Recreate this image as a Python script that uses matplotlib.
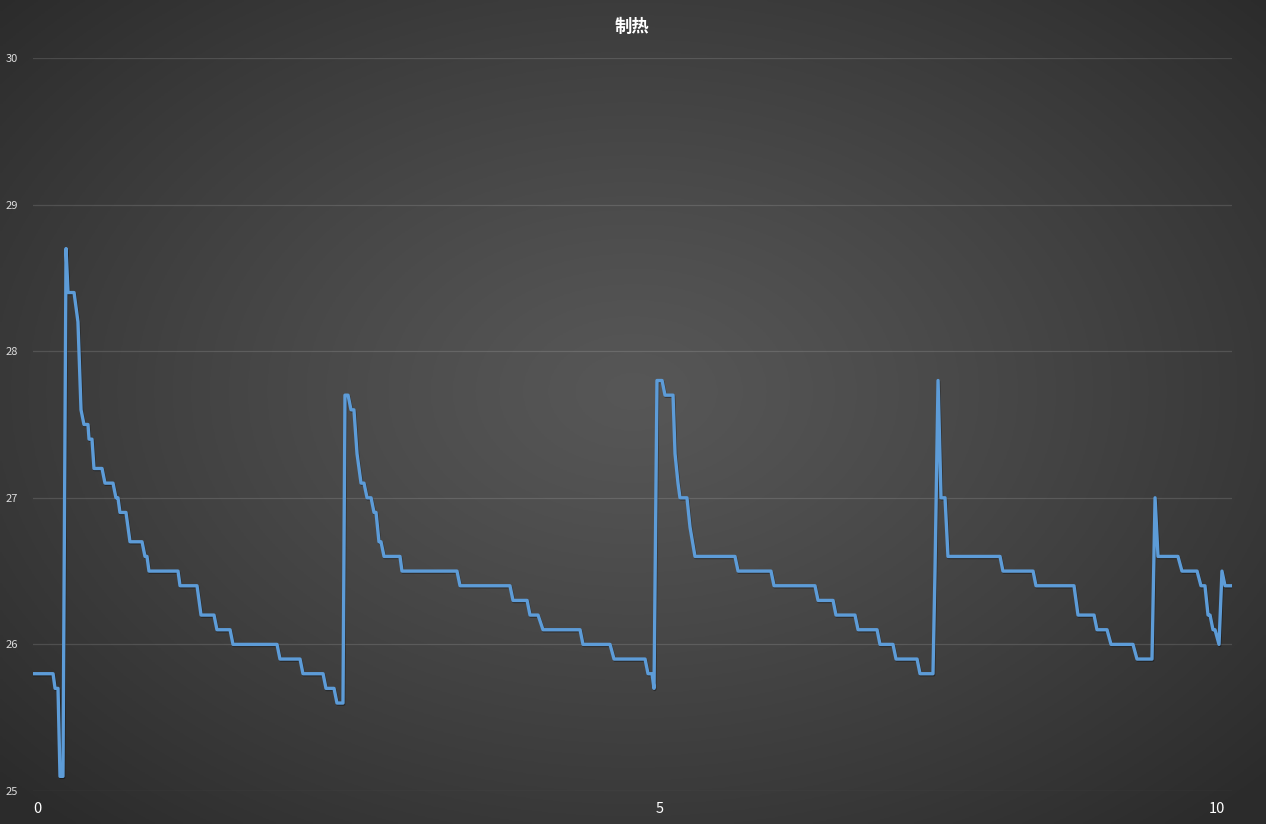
import matplotlib
matplotlib.use("Agg")
import matplotlib.pyplot as plt
import matplotlib.patheffects as pe
import numpy as np

plt.rcParams['font.family'] = ['Noto Sans CJK SC', 'DejaVu Sans']

TITLE = "制热"

# breakpoints of the temperature trace (x in axis units, y in degrees)
time_x = [
    -0.034, 0.136, 0.153, 0.178, 0.195, 0.220, 0.246, 0.263, 0.314, 0.347,
    0.373, 0.398, 0.432, 0.441, 0.466, 0.483, 0.551, 0.576, 0.644, 0.669,
    0.686, 0.703, 0.754, 0.788, 0.890, 0.915, 0.932, 0.949, 1.195, 1.212,
    1.356, 1.390, 1.500, 1.525, 1.636, 1.661, 2.034, 2.059, 2.229, 2.254,
    2.424, 2.449, 2.517, 2.542, 2.593, 2.610, 2.636, 2.661, 2.686, 2.712,
    2.746, 2.771, 2.797, 2.831, 2.856, 2.873, 2.898, 2.915, 2.941, 3.076,
    3.093, 3.559, 3.585, 4.008, 4.034, 4.153, 4.178, 4.246, 4.288, 4.602,
    4.627, 4.856, 4.890, 5.153, 5.178, 5.212, 5.229, 5.254, 5.297, 5.322,
    5.390, 5.407, 5.432, 5.449, 5.508, 5.534, 5.576, 5.915, 5.941, 6.220,
    6.246, 6.593, 6.619, 6.746, 6.771, 6.932, 6.958, 7.119, 7.144, 7.254,
    7.280, 7.458, 7.483, 7.593, 7.610, 7.636, 7.661, 7.695, 7.720, 8.161,
    8.186, 8.441, 8.466, 8.788, 8.822, 8.958, 8.983, 9.068, 9.102, 9.288,
    9.322, 9.449, 9.475, 9.500, 9.669, 9.703, 9.831, 9.864, 9.898, 9.924,
    9.941, 9.966, 9.983, 10.017, 10.042, 10.068, 10.127,
]
temp_y = [
    25.8, 25.8, 25.7, 25.7, 25.1, 25.1, 28.7, 28.4, 28.4, 28.2,
    27.6, 27.5, 27.5, 27.4, 27.4, 27.2, 27.2, 27.1, 27.1, 27.0,
    27.0, 26.9, 26.9, 26.7, 26.7, 26.6, 26.6, 26.5, 26.5, 26.4,
    26.4, 26.2, 26.2, 26.1, 26.1, 26.0, 26.0, 25.9, 25.9, 25.8,
    25.8, 25.7, 25.7, 25.6, 25.6, 27.7, 27.7, 27.6, 27.6, 27.3,
    27.1, 27.1, 27.0, 27.0, 26.9, 26.9, 26.7, 26.7, 26.6, 26.6,
    26.5, 26.5, 26.4, 26.4, 26.3, 26.3, 26.2, 26.2, 26.1, 26.1,
    26.0, 26.0, 25.9, 25.9, 25.8, 25.8, 25.7, 27.8, 27.8, 27.7,
    27.7, 27.3, 27.1, 27.0, 27.0, 26.8, 26.6, 26.6, 26.5, 26.5,
    26.4, 26.4, 26.3, 26.3, 26.2, 26.2, 26.1, 26.1, 26.0, 26.0,
    25.9, 25.9, 25.8, 25.8, 26.5, 27.8, 27.0, 27.0, 26.6, 26.6,
    26.5, 26.5, 26.4, 26.4, 26.2, 26.2, 26.1, 26.1, 26.0, 26.0,
    25.9, 25.9, 27.0, 26.6, 26.6, 26.5, 26.5, 26.4, 26.4, 26.2,
    26.2, 26.1, 26.1, 26.0, 26.5, 26.4, 26.4,
]

xtick_pos = [0, 5.28, 10]
xtick_labels = ["0", "5", "10"]
ytick_vals = [25, 26, 27, 28, 29, 30]

fig = plt.figure(figsize=(12.66, 8.24), dpi=100)

# radial gradient background
bg = fig.add_axes([0, 0, 1, 1], zorder=0)
gx, gy = np.meshgrid(np.linspace(-1, 1, 400), np.linspace(-1, 1, 300))
r = np.sqrt(gx ** 2 + ((gy + 0.05) / 1.05) ** 2)
shade = 0.34 - 0.17 * np.clip(r / 1.35, 0, 1) ** 1.2
bg.imshow(np.dstack([shade] * 3), aspect="auto", extent=[0, 1, 0, 1])
bg.axis("off")

ax = fig.add_axes([33 / 1266, 1 - 791 / 824, (1232 - 33) / 1266, (791 - 58) / 824], zorder=1)
ax.patch.set_alpha(0)
ax.plot(time_x, temp_y, color="#5d9cd8", lw=2.4, solid_joinstyle="round",
        path_effects=[pe.SimpleLineShadow(offset=(0.5, -0.8), shadow_color="black", alpha=0.35),
                      pe.Normal()], zorder=3)

ax.set_xlim(-0.034, 10.127)
ax.set_ylim(25, 30)
ax.set_yticks(ytick_vals)
ax.set_xticks(xtick_pos)
ax.set_xticklabels(xtick_labels)
ax.grid(axis="y", color="#ffffff", alpha=0.13, lw=0.9)
ax.tick_params(axis="y", length=0, pad=11, labelsize=8, labelcolor="#dddddd")
ax.tick_params(axis="x", length=0, pad=8, labelsize=10.5, labelcolor="white")
for s in ax.spines.values():
    s.set_visible(False)

fig.text(632 / 1266, 1 - 27 / 824, TITLE, ha="center", va="center",
         color="white", fontsize=12.5, fontweight="bold")

fig.savefig("out.png", dpi=100)
